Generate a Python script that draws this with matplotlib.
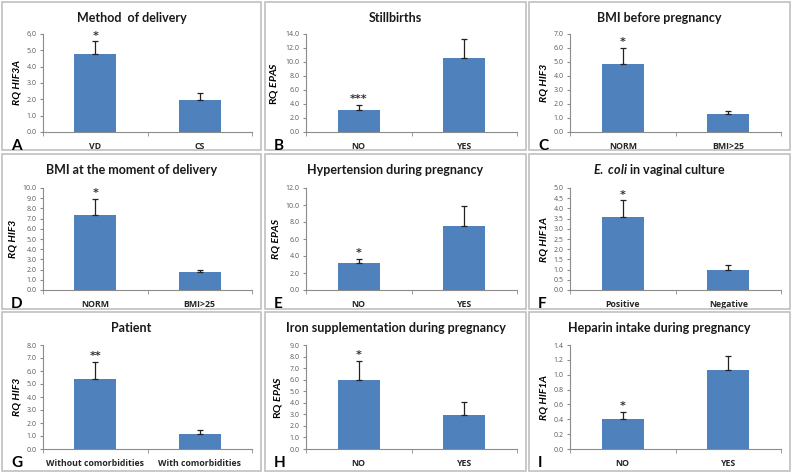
import numpy as np
import matplotlib
matplotlib.use("Agg")
import matplotlib.pyplot as plt
from matplotlib.patches import Rectangle

plt.rcParams["font.family"] = ["Lato", "DejaVu Sans"]
plt.rcParams["mathtext.fontset"] = "custom"
plt.rcParams["mathtext.rm"] = "Lato:bold"
plt.rcParams["mathtext.bf"] = "Lato:bold"
plt.rcParams["mathtext.it"] = "Lato:italic:bold"

# Panel data
letters = ["A", "B", "C", "D", "E", "F", "G", "H", "I"]
titles = [
    "Method  of delivery",
    "Stillbirths",
    "BMI before pregnancy",
    "BMI at the moment of delivery",
    "Hypertension during pregnancy",
    r"$\it{E.\ coli}$ in vaginal culture",
    "Patient",
    "Iron supplementation during pregnancy",
    "Heparin intake during pregnancy",
]
categories = [
    ["VD", "CS"],
    ["NO", "YES"],
    ["NORM", "BMI>25"],
    ["NORM", "BMI>25"],
    ["NO", "YES"],
    ["Positive", "Negative"],
    ["Without comorbidities", "With comorbidities"],
    ["NO", "YES"],
    ["NO", "YES"],
]
means = [
    [4.78, 1.97],
    [3.10, 10.56],
    [4.86, 1.27],
    [7.31, 1.80],
    [3.23, 7.48],
    [3.57, 1.00],
    [5.35, 1.17],
    [5.94, 2.98],
    [0.40, 1.06],
]
errors = [
    [0.77, 0.41],
    [0.77, 2.77],
    [1.15, 0.24],
    [1.64, 0.20],
    [0.43, 2.36],
    [0.82, 0.23],
    [1.33, 0.33],
    [1.66, 1.06],
    [0.10, 0.19],
]
stars = ["*", "***", "*", "*", "*", "*", "**", "*", "*"]
y_max = [6, 14, 7, 10, 12, 5, 8, 9, 1.4]
y_step = [1, 2, 1, 1, 2, 0.5, 1, 1, 0.2]
y_labels = [
    "RQ HIF3A",
    r"RQ $\it{EPAS}$",
    "RQ HIF3",
    "RQ HIF3",
    "RQ EPAS",
    "RQ HIF1A",
    "RQ HIF3",
    r"RQ $\it{EPAS}$",
    "RQ HIF1A",
]

W, H = 792, 475
fig = plt.figure(figsize=(W / 100, H / 100), dpi=100)

# panel frames in pixels
col_left = [2, 265, 529]
col_right = [261, 526, 790]
row_top = [2, 154, 312]
row_bot = [150, 309, 471]
ax_top = [34, 188, 345]
ax_bot = [132, 290, 449]


def fx(px):
    return px / W


def fy(py):
    return 1 - py / H


bar_color = "#4F81BD"
axis_color = "#8C8C8C"

for i in range(9):
    r, c = divmod(i, 3)
    # panel border
    fig.add_artist(Rectangle((fx(col_left[c]), fy(row_bot[r])),
                             fx(col_right[c] - col_left[c]),
                             (row_bot[r] - row_top[r]) / H,
                             transform=fig.transFigure, fill=False,
                             edgecolor="#C0C0C0", lw=1.2))

    left = col_left[c] + 41
    right = col_right[c] - 9
    ax = fig.add_axes([fx(left), fy(ax_bot[r]), fx(right - left),
                       (ax_bot[r] - ax_top[r]) / H])

    x = np.arange(2)
    ax.bar(x, means[i], width=0.4, color=bar_color, zorder=2)
    ax.errorbar(x, means[i], yerr=[[0, 0], errors[i]], fmt="none",
                ecolor="#222222", elinewidth=0.9, capsize=2.5, capthick=0.9,
                zorder=3)
    ax.annotate(stars[i], xy=(0, means[i][0] + errors[i][0]), xytext=(0, 0.5),
                textcoords="offset points", ha="center", va="bottom",
                fontsize=8, fontweight="bold", color="#333333",
                family="DejaVu Sans")

    ax.set_xlim(-0.5, 1.5)
    ax.set_ylim(0, y_max[i])
    ticks = np.arange(0, y_max[i] + y_step[i] / 2, y_step[i])
    labels = ["{:.1f}".format(t) for t in ticks]
    if letters[i] == "A":
        labels[-1] = "6,0"
    ax.set_yticks(ticks)
    ax.set_yticklabels(labels, family="Open Sans")
    ax.set_xticks(x)
    ax.set_xticklabels(categories[i], family="Open Sans", fontweight="bold",
                       fontsize=6.3, color="#262626")
    ax.set_xticks([-0.5, 0.5, 1.5], minor=True)
    ax.tick_params(axis="x", which="major", length=0, pad=7)
    ax.tick_params(axis="x", which="minor", length=3, color=axis_color,
                   direction="out")
    ax.tick_params(axis="y", length=2.5, color=axis_color, labelsize=5,
                   labelcolor="#595959", pad=2)

    for s in ["top", "right"]:
        ax.spines[s].set_visible(False)
    for s in ["left", "bottom"]:
        ax.spines[s].set_color(axis_color)
        ax.spines[s].set_linewidth(0.8)

    if "$" in y_labels[i]:
        ax.set_ylabel(y_labels[i], fontsize=7.5, fontweight="bold", labelpad=4)
    else:
        ax.set_ylabel(y_labels[i], fontsize=7.5, fontweight="bold",
                      fontstyle="italic", labelpad=4)

    # title and panel letter
    cx = (col_left[c] + col_right[c]) / 2
    fig.text(fx(cx), fy(row_top[r] + 16), titles[i], ha="center",
             va="center", fontsize=9, fontweight="bold", color="#1a1a1a")
    fig.text(fx(col_left[c] + 9), fy(ax_bot[r] + 14), letters[i],
             ha="left", va="center", fontsize=11, fontweight="bold",
             color="black")

fig.savefig("out.png", dpi=100)
